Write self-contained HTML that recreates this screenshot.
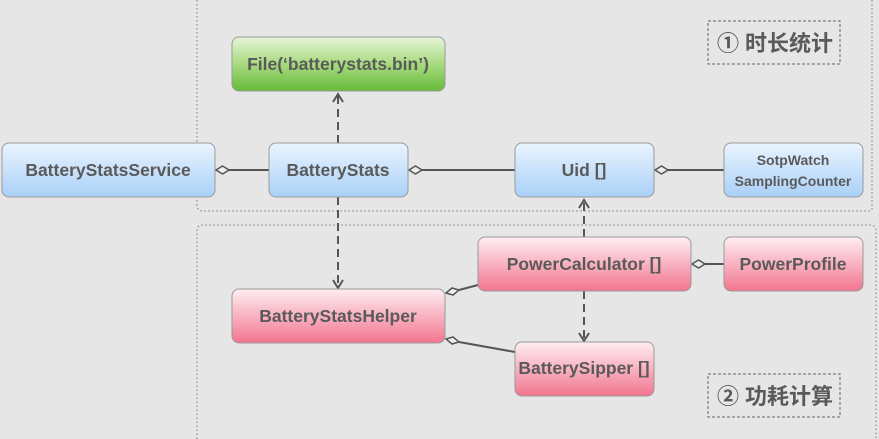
<!DOCTYPE html>
<html><head><meta charset="utf-8"><style>
body{margin:0;background:#e6e6e6;}
svg{display:block;font-family:"Liberation Sans","Noto Sans CJK SC",sans-serif;}
</style></head><body>
<svg width="879" height="439" viewBox="0 0 879 439">
<defs>
<linearGradient id="b" x1="0" y1="0" x2="0" y2="1"><stop offset="0" stop-color="#eaf4ff"/><stop offset="1" stop-color="#a9d0f7"/></linearGradient>
<linearGradient id="g" x1="0" y1="0" x2="0" y2="1"><stop offset="0" stop-color="#e6f5d8"/><stop offset="0.5" stop-color="#a8db80"/><stop offset="1" stop-color="#66bb3a"/></linearGradient>
<linearGradient id="r" x1="0" y1="0" x2="0" y2="1"><stop offset="0" stop-color="#ffeef2"/><stop offset="1" stop-color="#f2758f"/></linearGradient>
</defs>
<rect width="879" height="439" fill="#e6e6e6"/>
<path d="M197 0 V205 Q197 211 203 211 H872" fill="none" stroke="#777" stroke-dasharray="1.5,2.5"/>
<path d="M872 0 V211" fill="none" stroke="#777" stroke-dasharray="1.5,2.5"/>
<path d="M197 439 V231 Q197 225 203 225 H870 Q876 225 876 231 V439" fill="none" stroke="#777" stroke-dasharray="1.5,2.5"/>
<g stroke="#555" stroke-width="2" fill="none">
<line x1="229" y1="170" x2="269" y2="170"/>
<line x1="422" y1="170" x2="515" y2="170"/>
<line x1="668" y1="170" x2="724" y2="170"/>
<line x1="705" y1="264" x2="724" y2="264"/>
<line x1="459" y1="290" x2="478" y2="285"/>
<line x1="459" y1="342" x2="515" y2="352"/>
<line x1="338" y1="143" x2="338" y2="95" stroke-dasharray="8,5"/>
<line x1="338" y1="197" x2="338" y2="287" stroke-dasharray="8,5"/>
<line x1="584" y1="237" x2="584" y2="201" stroke-dasharray="8,5"/>
<line x1="584" y1="291" x2="584" y2="340" stroke-dasharray="8,5"/>
<polyline points="333,102 338,94 343,102"/>
<polyline points="333,280 338,288 343,280"/>
<polyline points="579,208 584,200 589,208"/>
<polyline points="579,333 584,341 589,333"/>
</g>
<g stroke="#555" stroke-width="1.5" fill="#eee">
<path d="M216 170 l6.5 -4 l6.5 4 l-6.5 4z"/>
<path d="M409 170 l6.5 -4 l6.5 4 l-6.5 4z"/>
<path d="M655 170 l6.5 -4 l6.5 4 l-6.5 4z"/>
<path d="M692 264 l6.5 -4 l6.5 4 l-6.5 4z"/>
<path d="M446 293 l6 -5 l7 2 l-6 5z"/>
<path d="M446 339 l7 -2 l6 5 l-7 2z"/>
</g>
<g stroke="#999" stroke-width="1">
<rect x="232" y="37" width="213" height="54" rx="7" fill="url(#g)"/>
<rect x="2" y="143" width="213" height="54" rx="7" fill="url(#b)"/>
<rect x="269" y="143" width="139" height="54" rx="7" fill="url(#b)"/>
<rect x="515" y="143" width="139" height="54" rx="7" fill="url(#b)"/>
<rect x="724" y="143" width="139" height="54" rx="7" fill="url(#b)"/>
<rect x="478" y="237" width="213" height="54" rx="7" fill="url(#r)"/>
<rect x="724" y="237" width="139" height="54" rx="7" fill="url(#r)"/>
<rect x="232" y="289" width="213" height="54" rx="7" fill="url(#r)"/>
<rect x="515" y="342" width="139" height="54" rx="7" fill="url(#r)"/>
</g>
<g fill="#5a5a5a" font-weight="bold" font-size="17.5" text-anchor="middle">
<text x="338" y="70">File(‘batterystats.bin’)</text>
<text x="108" y="176">BatteryStatsService</text>
<text x="338" y="176">BatteryStats</text>
<text x="584" y="176">Uid []</text>
<text x="793" y="165" font-size="14">SotpWatch</text>
<text x="793" y="186" font-size="14">SamplingCounter</text>
<text x="584" y="270">PowerCalculator []</text>
<text x="793" y="270">PowerProfile</text>
<text x="338" y="322">BatteryStatsHelper</text>
<text x="584" y="374">BatterySipper []</text>
</g>
<g fill="none" stroke="#666" stroke-dasharray="3,2">
<rect x="708" y="21" width="132" height="43"/>
<rect x="708" y="374" width="132" height="43"/>
</g>
<g fill="#5a5a5a" font-weight="bold" font-size="22" text-anchor="middle">
<text x="775" y="51">① 时长统计</text>
<text x="775" y="404">② 功耗计算</text>
</g>
</svg>
</body></html>
